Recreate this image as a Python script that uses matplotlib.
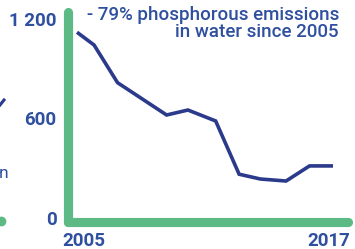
import matplotlib
matplotlib.use("Agg")
import matplotlib.pyplot as plt
import matplotlib.transforms as mtransforms
from matplotlib.lines import Line2D

years = [2005, 2005.8, 2006.9, 2009.2, 2010.2, 2011.5, 2012.6, 2013.6, 2014.8, 2015.9, 2017]
emissions = [1120, 1043, 816, 621, 651, 585, 264, 235, 223, 314, 314]
ytick_vals = [0, 600, 1200]
ytick_labels = ["0", "600", "1 200"]
xtick_vals = [2005, 2017]
xtick_labels = ["2005", "2017"]
annotation = "- 79% phosphorous emissions\nin water since 2005"

GREEN = "#5dba84"
LINE = "#2b3a8a"
TEXT = "#2f4f9f"

W, H = 355, 249
fig = plt.figure(figsize=(W / 100, H / 100), dpi=100)
plt.rcParams['font.family'] = ['Roboto', 'DejaVu Sans']

left, right, top, bottom = 67.5, 347.5, 12.5, 222
ax = fig.add_axes([left / W, (H - bottom) / H, (right - left) / W, (bottom - top) / H])
ax.set_xlim(2004.555, 2017.68)
ax.set_ylim(-24.1, 1239)

ax.plot(years, emissions, color=LINE, lw=2.6, solid_joinstyle='miter', solid_capstyle='butt', zorder=3)

for s in ['top', 'right']:
    ax.spines[s].set_visible(False)
for s in ['left', 'bottom']:
    ax.spines[s].set_color(GREEN)
    ax.spines[s].set_linewidth(6.6)
    ax.spines[s].set_capstyle('round')

ax.set_yticks(ytick_vals)
ax.set_yticklabels(ytick_labels)
ax.set_xticks(xtick_vals)
ax.set_xticklabels(xtick_labels)
ax.tick_params(length=0)
ax.tick_params(axis='y', pad=8)
ax.tick_params(axis='x', pad=7)
for lab in ax.get_yticklabels() + ax.get_xticklabels():
    lab.set_fontweight('bold')
    lab.set_fontsize(13.5)
    lab.set_color(TEXT)
xl = ax.get_xticklabels()
xl[0].set_transform(xl[0].get_transform() + mtransforms.ScaledTranslation(7 / 100, 0, fig.dpi_scale_trans))
xl[1].set_transform(xl[1].get_transform() + mtransforms.ScaledTranslation(-4 / 100, 0, fig.dpi_scale_trans))

fig.text(339 / W, 1 - 6 / H, annotation, ha='right', va='top', fontsize=13.5,
         color=TEXT, fontweight='medium', linespacing=0.92)

# fragments of the neighbouring chart at the left edge
fig.text(-1 / W, 1 - 173 / H, "n", ha='left', va='center', fontsize=12.5, color=TEXT)
fig.add_artist(Line2D([0 / W, 4 / W], [1 - 105 / H, 1 - 100 / H], color=LINE, lw=2.2))
fig.add_artist(Line2D([1 / W], [1 - 221 / H], marker='o', markersize=6, color=GREEN, lw=0))

fig.savefig("out.png", dpi=100)
